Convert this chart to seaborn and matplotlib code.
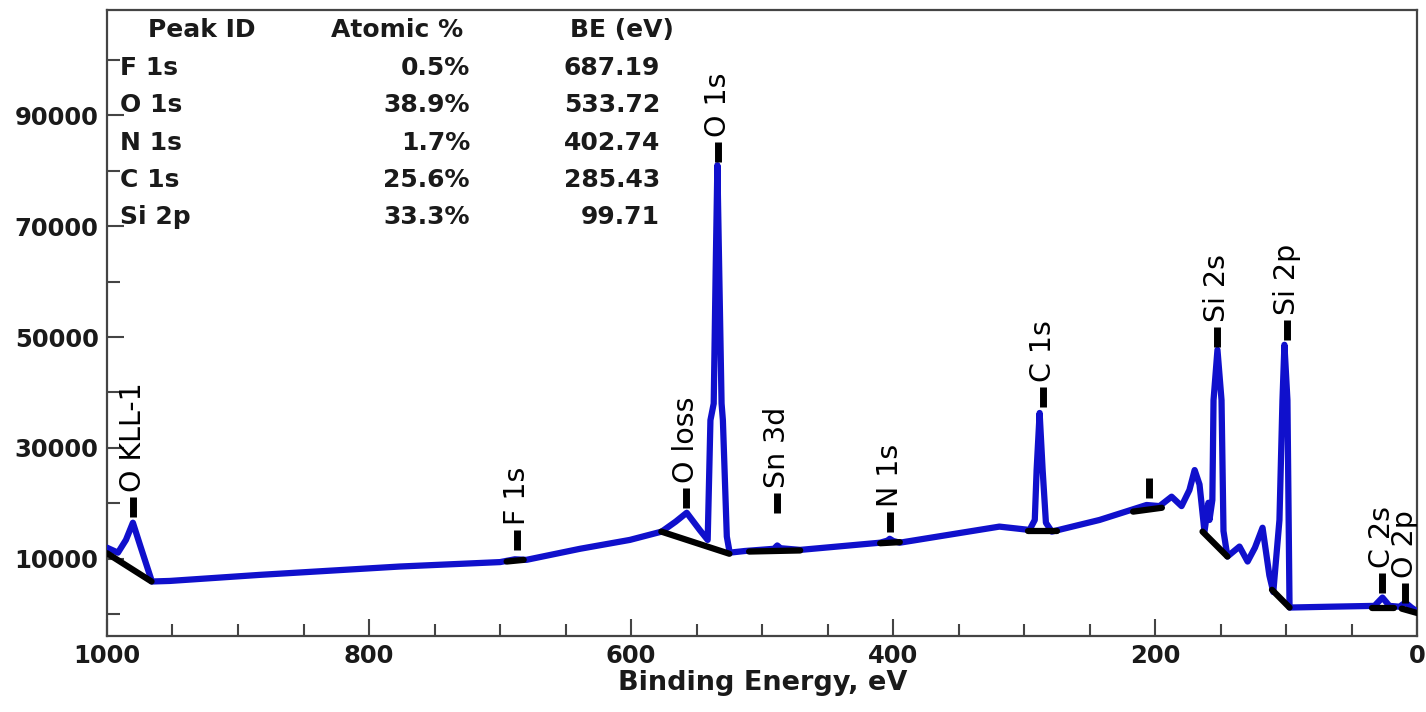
import numpy as np
import pandas as pd
import matplotlib
matplotlib.use('Agg')
import matplotlib.pyplot as plt
from matplotlib.ticker import FixedLocator, MultipleLocator
import seaborn as sns

# survey spectrum (binding energy eV, counts)
be = [1000, 991.6, 985.5, 980.2, 974.8, 965.7, 952, 883, 776.5, 700, 688.8, 680,
      639, 601, 576.7, 566, 557.6, 547.7, 541.6, 539.5, 537, 535.5, 534.2, 532.8, 531, 530,
      527, 524.8, 513.3, 491, 488.5, 486, 471, 410, 404, 402.7, 400, 395, 319, 296,
      292, 290.6, 288.3, 286, 283.5, 279, 242.6, 206.7, 196.8, 187.6, 180, 174, 170,
      166.3, 162.5, 159.5, 158.7, 156.5, 155.6, 152.6, 149.5, 148, 145, 135.8, 129.6, 124, 118.2,
      113, 110, 105.3, 103, 101.5, 99.2, 97.6, 67, 32.8, 26.7, 21.4, 13.7, 9.2,
      4.6, 0]
counts = [12000, 11100, 13400, 16500, 12500, 5900, 6000, 7100, 8600, 9400, 9900, 9800,
          11800, 13400, 14900, 16700, 18300, 15200, 13400, 35000, 38000, 62000, 81000, 62000, 38000, 35000,
          14000, 11100, 11400, 11800, 12400, 11900, 11600, 12900, 13300, 13600, 13200, 12900, 15800, 15200,
          17000, 26000, 36300, 26000, 16500, 14900, 17000, 19700, 19500, 21200, 19500, 22400, 26000,
          23400, 14900, 20100, 17000, 20600, 38600, 47700, 38600, 15000, 10400, 12200, 9500, 12000, 15600,
          7000, 4000, 17000, 38600, 48600, 38600, 1200, 1350, 1500, 3000, 1500, 1350, 2100,
          1200, 450]

# background segments drawn under each peak
bg_id = [0, 0, 1, 1, 2, 2, 3, 3, 4, 4, 5, 5, 6, 6, 7, 7, 8, 8, 9, 9, 10, 10]
bg_be = [1000, 966, 695, 682, 577, 525, 510, 471, 410, 395, 297, 275,
         217, 195, 164, 145, 111, 97.6, 35, 18, 12, 0]
bg_counts = [11000, 5900, 9500, 9800, 14900, 10900, 11300, 11500, 12800, 13000, 15000, 15000,
             18500, 19200, 14900, 10400, 4400, 1200, 1200, 1200, 1000, 200]

# peak markers
peak_names = ['O KLL-1', 'F 1s', 'O loss', 'O 1s', 'Sn 3d', 'N 1s', 'C 1s', '',
              'Si 2s', 'Si 2p', 'C 2s', 'O 2p']
peak_be = [980.2, 687.19, 558, 533.72, 489, 402.74, 285.43, 204.5, 152.6, 99.71, 26.7, 9.2]
peak_mark = [17500, 11600, 19200, 81500, 18300, 14900, 37400, 21000, 48200, 49500, 3900, 2100]

# quantification table
tab_header = ['Peak ID', 'Atomic %', 'BE (eV)']
tab_id = ['F 1s', 'O 1s', 'N 1s', 'C 1s', 'Si 2p']
tab_atomic = ['0.5%', '38.9%', '1.7%', '25.6%', '33.3%']
tab_be = ['687.19', '533.72', '402.74', '285.43', '99.71']

sns.set_style('ticks')
plt.rcParams['font.family'] = ['DejaVu Sans']

fig = plt.figure(figsize=(14.26, 7.12), dpi=100)
ax = fig.add_axes([0.075, 0.107, 0.919, 0.879])

spec = pd.DataFrame({'be': be, 'counts': counts})
bg = pd.DataFrame({'id': bg_id, 'be': bg_be, 'counts': bg_counts})

sns.lineplot(data=spec, x='be', y='counts', sort=False, estimator=None,
             color='#1010cc', linewidth=4.5, ax=ax, zorder=3)
sns.lineplot(data=bg, x='be', y='counts', units='id', sort=False, estimator=None,
             color='black', linewidth=4.5, ax=ax, zorder=4)

dash = 3600
for name, x, y in zip(peak_names, peak_be, peak_mark):
    ax.plot([x, x], [y, y + dash], color='black', linewidth=5, solid_capstyle='butt', zorder=5)
    if name:
        ax.text(x, y + dash + 900, name, rotation=90, ha='center', va='bottom',
                fontsize=20.5, color='black', clip_on=True, zorder=6)

ax.set_xlim(1000, 0)
ax.set_ylim(-3900, 109000)
ax.xaxis.set_major_locator(MultipleLocator(200))
ax.xaxis.set_minor_locator(MultipleLocator(50))
ax.yaxis.set_major_locator(FixedLocator([10000, 30000, 50000, 70000, 90000]))
ax.yaxis.set_minor_locator(FixedLocator([0, 20000, 40000, 60000, 80000, 100000]))
ax.tick_params(which='major', direction='in', length=12, width=1.5, color='#444444',
               labelsize=17.5, pad=6, labelcolor='#1a1a1a')
ax.tick_params(which='minor', direction='in', length=9, width=1.5, color='#444444')
for lab in ax.get_xticklabels() + ax.get_yticklabels():
    lab.set_fontweight('bold')
for sp in ax.spines.values():
    sp.set_color('#444444')
    sp.set_linewidth(1.6)

ax.set_xlabel('Binding Energy, eV', fontsize=19.5, fontweight='bold', labelpad=1, color='#1a1a1a')
ax.set_ylabel('')

# table in the upper left
hx = [0.072, 0.221, 0.393]
for x, h in zip(hx, tab_header):
    ax.text(x, 0.968, h, transform=ax.transAxes, ha='center', va='center',
            fontsize=18, fontweight='bold', color='#1a1a1a')
for i in range(len(tab_id)):
    y = 0.907 - i * 0.0595
    ax.text(0.010, y, tab_id[i], transform=ax.transAxes, ha='left', va='center',
            fontsize=18, fontweight='bold', color='#1a1a1a')
    ax.text(0.277, y, tab_atomic[i], transform=ax.transAxes, ha='right', va='center',
            fontsize=18, fontweight='bold', color='#1a1a1a')
    ax.text(0.422, y, tab_be[i], transform=ax.transAxes, ha='right', va='center',
            fontsize=18, fontweight='bold', color='#1a1a1a')

fig.savefig('out.png', dpi=100)
